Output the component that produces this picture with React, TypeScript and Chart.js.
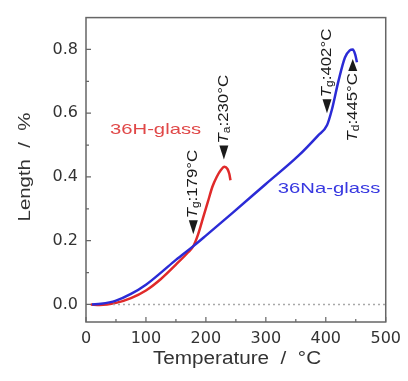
import React, { useEffect, useRef } from "react";
import { Chart, registerables } from "chart.js";
Chart.register(...registerables);

// 36Na-glass curve
const naTemp = [10, 25, 50, 75, 100, 125, 150, 179, 200, 245, 300, 354, 387, 402, 410, 421, 432, 440, 445, 449, 452];
const naLen = [0, 0.002, 0.012, 0.033, 0.062, 0.1, 0.14, 0.183, 0.216, 0.288, 0.378, 0.466, 0.53, 0.562, 0.61, 0.7, 0.775, 0.797, 0.8, 0.785, 0.76];
// 36H-glass curve
const hTemp = [8, 23, 50, 75, 100, 125, 150, 170, 179, 187, 195, 203, 211, 218, 225, 231, 236, 239, 241];
const hLen = [0, -0.002, 0.005, 0.02, 0.044, 0.08, 0.125, 0.163, 0.183, 0.22, 0.27, 0.32, 0.37, 0.4, 0.422, 0.432, 0.425, 0.41, 0.39];
// dotted baseline
const baseTemp = [45, 500];
const baseLen = [0, 0];

const xMajor = [0, 100, 200, 300, 400, 500];
const xMinor = [50, 150, 250, 350, 450];
const yMajor = [0, 0.2, 0.4, 0.6, 0.8];
const yMinor = [0.1, 0.3, 0.5, 0.7];

// annotations: T_sub : value °C, arrow tip at (temp, len)
const annSub = ["g", "a", "g", "d"];
const annValue = ["179", "230", "402", "445"];
const annTemp = [179, 230, 402, 445];
const annLen = [0.22, 0.455, 0.6, 0.77];
const annDir = ["down", "down", "down", "up"];

const seriesNames = ["36H-glass", "36Na-glass"];
const seriesColors = ["#e02a2a", "#2b2bd6"];
const labelColors = ["#e04848", "#3838e0"];
const labelTemp = [40, 320];
const labelLen = [0.535, 0.35];

const FONT = "'Liberation Sans', Arial, sans-serif";

export default function App() {
  const ref = useRef<HTMLCanvasElement>(null);
  useEffect(() => {
    document.body.style.margin = "0";
    const canvas = ref.current!;
    const drawText = (ctx: CanvasRenderingContext2D, text: string, x: number, y: number, font: string, sx: number, rot: number, align: string) => {
      ctx.save();
      ctx.translate(x, y);
      ctx.rotate(rot);
      ctx.scale(sx, 1);
      ctx.font = font;
      ctx.textAlign = align as CanvasTextAlign;
      ctx.fillText(text, 0, 0);
      ctx.restore();
    };
    const overlay = {
      id: "overlay",
      afterDraw(chart: any) {
        const ctx: CanvasRenderingContext2D = chart.ctx;
        const xs = chart.scales.x;
        const ys = chart.scales.y;
        const a = chart.chartArea;
        ctx.save();
        // frame
        ctx.strokeStyle = "#666";
        ctx.lineWidth = 1.5;
        ctx.strokeRect(a.left, a.top, a.right - a.left, a.bottom - a.top);
        // ticks inward
        ctx.lineWidth = 1.2;
        ctx.beginPath();
        xMajor.forEach((v) => { const p = xs.getPixelForValue(v); ctx.moveTo(p, a.bottom); ctx.lineTo(p, a.bottom - 5); });
        xMinor.forEach((v) => { const p = xs.getPixelForValue(v); ctx.moveTo(p, a.bottom); ctx.lineTo(p, a.bottom - 3); });
        yMajor.forEach((v) => { const p = ys.getPixelForValue(v); ctx.moveTo(a.left, p); ctx.lineTo(a.left + 5, p); });
        yMinor.forEach((v) => { const p = ys.getPixelForValue(v); ctx.moveTo(a.left, p); ctx.lineTo(a.left + 3, p); });
        ctx.stroke();
        // axis titles
        ctx.fillStyle = "#333";
        ctx.textBaseline = "middle";
        drawText(ctx, "Temperature  /  °C", 237, 359, `18px ${FONT}`, 1.15, 0, "center");
        drawText(ctx, "Length  /  %", 25, 167, `17px ${FONT}`, 1.2, -Math.PI / 2, "center");
        // series labels
        ctx.textBaseline = "alphabetic";
        seriesNames.forEach((n, i) => {
          ctx.fillStyle = labelColors[i];
          drawText(ctx, n, xs.getPixelForValue(labelTemp[i]), ys.getPixelForValue(labelLen[i]), `15px ${FONT}`, 1.35, 0, "left");
        });
        // annotations
        ctx.fillStyle = "#1a1a1a";
        ctx.textBaseline = "middle";
        const sx = 1.2;
        annTemp.forEach((t, i) => {
          const x = xs.getPixelForValue(t);
          const tip = ys.getPixelForValue(annLen[i]);
          const up = annDir[i] === "up";
          const base = up ? tip + 12 : tip - 14;
          ctx.beginPath();
          ctx.moveTo(x, tip);
          ctx.lineTo(x - 4.5, base);
          ctx.lineTo(x + 4.5, base);
          ctx.closePath();
          ctx.fill();
          const fMain = `14px ${FONT}`;
          const fIt = `italic 14px ${FONT}`;
          const fSub = `10px ${FONT}`;
          const rest = ":" + annValue[i] + "°C";
          ctx.font = fIt; const wT = ctx.measureText("T").width;
          ctx.font = fSub; const wS = ctx.measureText(annSub[i]).width;
          ctx.font = fMain; const wR = ctx.measureText(rest).width;
          const w = (wT + wS + wR) * sx;
          const start = up ? base + 2 + w : base - 2;
          ctx.save();
          ctx.translate(x, start);
          ctx.rotate(-Math.PI / 2);
          ctx.scale(sx, 1);
          ctx.textAlign = "left";
          ctx.font = fIt; ctx.fillText("T", 0, 0);
          ctx.font = fSub; ctx.fillText(annSub[i], wT, 3);
          ctx.font = fMain; ctx.fillText(rest, wT + wS, 0);
          ctx.restore();
        });
        ctx.restore();
      },
    };
    const chart = new Chart(canvas, {
      type: "scatter",
      data: {
        datasets: [
          {
            data: baseTemp.map((t, i) => ({ x: t, y: baseLen[i] })),
            showLine: true, borderColor: "#a8a8a8", borderWidth: 1.5, borderDash: [2, 3], pointRadius: 0,
          },
          {
            label: seriesNames[1],
            data: naTemp.map((t, i) => ({ x: t, y: naLen[i] })),
            showLine: true, borderColor: seriesColors[1], borderWidth: 2.5, pointRadius: 0, cubicInterpolationMode: "monotone",
          },
          {
            label: seriesNames[0],
            data: hTemp.map((t, i) => ({ x: t, y: hLen[i] })),
            showLine: true, borderColor: seriesColors[0], borderWidth: 2.5, pointRadius: 0, cubicInterpolationMode: "monotone",
          },
        ],
      },
      options: {
        animation: false,
        responsive: false,
        devicePixelRatio: 1,
        layout: { padding: { top: 13, right: 20, left: 0, bottom: 0 } },
        plugins: { legend: { display: false }, tooltip: { enabled: false } },
        scales: {
          x: {
            type: "linear", min: 0, max: 500,
            grid: { display: false, drawTicks: false },
            border: { display: false },
            afterBuildTicks: (s: any) => { s.ticks = xMajor.map((v) => ({ value: v })); },
            afterFit: (s: any) => { s.height = 59; },
            ticks: { color: "#333", padding: 7, maxRotation: 0, font: { family: "'DejaVu Sans'", size: 16 }, callback: (v: any) => String(v) },
          },
          y: {
            type: "linear", min: -0.055, max: 0.9,
            grid: { display: false, drawTicks: false },
            border: { display: false },
            afterBuildTicks: (s: any) => { s.ticks = yMajor.map((v) => ({ value: v })); },
            afterFit: (s: any) => { s.width = 86; },
            ticks: { color: "#333", padding: 8, font: { family: "'DejaVu Sans'", size: 16 }, callback: (v: any) => Number(v).toFixed(1) },
          },
        },
      },
      plugins: [overlay],
    } as any);
    return () => chart.destroy();
  }, []);
  return <canvas ref={ref} width={408} height={381} style={{ display: "block" }} />;
}
